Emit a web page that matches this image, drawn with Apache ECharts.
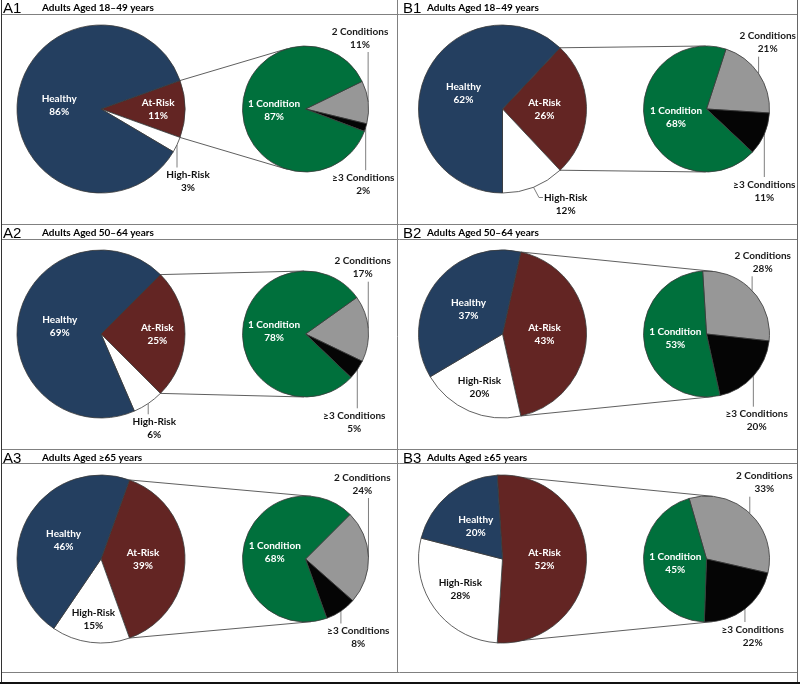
<!DOCTYPE html>
<html><head><meta charset="utf-8">
<script src="https://cdn.jsdelivr.net/npm/echarts@6/dist/echarts.min.js"></script>
<style>html,body{margin:0;padding:0;background:#fff}#c{width:800px;height:684px}</style>
</head><body><div id="c"></div>
<script>
// ---------- data ----------
const PANEL_IDS = ['A1','B1','A2','B2','A3','B3'];
const PANEL_TITLES = ['Adults Aged 18\u201349 years','Adults Aged 18\u201349 years','Adults Aged 50\u201364 years','Adults Aged 50\u201364 years','Adults Aged \u226565 years','Adults Aged \u226565 years'];
const RISK_CATEGORIES = ['At-Risk','High-Risk','Healthy'];
const AT_RISK   = [11,26,25,43,39,52];
const HIGH_RISK = [3,12,6,20,15,28];
const HEALTHY   = [86,62,69,37,46,20];
const COND_CATEGORIES = ['2 Conditions','\u22653 Conditions','1 Condition'];
const COND_2 = [11,21,17,28,24,33];
const COND_3 = [2,11,5,20,8,22];
const COND_1 = [87,68,78,53,68,45];

// ---------- layout / style ----------
const FONT = 'Lato, "Open Sans", sans-serif';
const COLORS = {'At-Risk':'#632523','High-Risk':'#ffffff','Healthy':'#243F60',
  '2 Conditions':'#979797','\u22653 Conditions':'#050505','1 Condition':'#00703C'};
const COLS = [{x:0, bigX:101, smallX:305.5},{x:400, bigX:102.5, smallX:306.5}];
const ROW_Y = [0,225,450];
const CY = 109, BIG_R = 84, SMALL_R = 63;
const SMALL_START = [26,72,35.5,93.5,45,106];
// big pie label placement: radial factor (inside) or outside label centre (panel coords)
const BIG_LABEL = [
  [0.68, {x:188, y:181.5, lead:'v'}, 0.5],
  [0.5, {x:165.7, y:204, lead:'side'}, 0.5],
  [0.67, {x:154.3, y:203.3, lead:'v'}, 0.5],
  [0.5, 0.69, 0.5],
  [0.5, 0.72, 0.5],
  [0.5, 0.62, 0.5]
];
// small pie outside label centres [2 Conditions, >=3 Conditions] (panel coords)
const SMALL_LABEL = [
  [[360,38],[363.3,184.2]],
  [[367.7,42.7],[364.3,191]],
  [[362.7,42.7],[354.3,197.3]],
  [[362.7,37.3],[356.7,195.7]],
  [[362.3,34],[358.3,187.5]],
  [[364.3,32.7],[352.7,186]]
];

function panelGeo(i){
  const c = COLS[i%2], oy = ROW_Y[Math.floor(i/2)];
  return {ox:c.x, oy:oy, bx:c.x+c.bigX, by:oy+CY, sx:c.x+c.smallX, sy:oy+CY};
}
function midAngle(start, vals, k){
  let s = 0; for (let j=0;j<k;j++) s += vals[j];
  const tot = vals.reduce((a,b)=>a+b,0);
  return start - 360*(s + vals[k]/2)/tot;
}
function pt(cx,cy,r,deg){ const a=deg*Math.PI/180; return [cx+r*Math.cos(a), cy-r*Math.sin(a)]; }

function bigLayout(i){
  const g = panelGeo(i), vals=[AT_RISK[i],HIGH_RISK[i],HEALTHY[i]], start=AT_RISK[i]*1.8;
  return function(p){
    const k = p.dataIndex, lay = BIG_LABEL[i][k], mid = midAngle(start, vals, k);
    if (typeof lay === 'number'){
      const q = pt(g.bx,g.by,lay*BIG_R,mid);
      return {x:q[0], y:q[1], align:'center', verticalAlign:'middle'};
    }
    const e = pt(g.bx,g.by,BIG_R,mid);
    const lx = g.ox+lay.x, ly = g.oy+lay.y, h=p.labelRect.height, w=p.labelRect.width;
    let pts;
    if (lay.lead==='v'){ const ty = ly-h/2-1; pts=[e,[e[0],ty],[e[0],ty]]; }
    else { const l = lx-w/2, ty = ly-h/4; pts=[e,[l-5,ty],[l-1,ty]]; }
    return {x:lx, y:ly, align:'center', verticalAlign:'middle', labelLinePoints:pts};
  };
}
function smallLayout(i){
  const g = panelGeo(i), vals=[COND_2[i],COND_3[i],COND_1[i]], start=SMALL_START[i];
  return function(p){
    const k = p.dataIndex, mid = midAngle(start, vals, k);
    if (k===2){ const q=pt(g.sx,g.sy,0.5*SMALL_R,mid); return {x:q[0],y:q[1],align:'center',verticalAlign:'middle'}; }
    const lab = SMALL_LABEL[i][k], e = pt(g.sx,g.sy,SMALL_R,mid);
    const lx = g.ox+lab[0], ly = g.oy+lab[1], h=p.labelRect.height;
    const ty = k===0 ? ly+h/2+1 : ly-h/2-1;
    return {x:lx, y:ly, align:'center', verticalAlign:'middle', labelLinePoints:[e,[e[0],ty],[e[0],ty]]};
  };
}

const baseLabel = {show:true, formatter:'{b}\n{c}%', fontSize:10, fontWeight:'bold', fontFamily:FONT, lineHeight:13, textBorderWidth:0};
const series = [];
const graphics = [];

function tangent(P, C, r, upper){
  const dx=P[0]-C[0], dy=C[1]-P[1], d=Math.hypot(dx,dy), phi=Math.atan2(dy,dx), a=Math.acos(r/d);
  const t = upper ? phi-a : phi+a;
  return [C[0]+r*Math.cos(t), C[1]-r*Math.sin(t)];
}

for (let i=0;i<6;i++){
  const g = panelGeo(i);
  const rv = [AT_RISK[i],HIGH_RISK[i],HEALTHY[i]];
  const bigData = RISK_CATEGORIES.map((name,k)=>{
    const out = typeof BIG_LABEL[i][k] === 'object';
    return {name, value:rv[k], itemStyle:{color:COLORS[name]},
      label:{position: out?'outside':'inside', color: (name==='High-Risk')?'#111':'#fff'},
      labelLine:{show:out}};
  });
  series.push({type:'pie', center:[g.bx,g.by], radius:BIG_R, startAngle:AT_RISK[i]*1.8, clockwise:true,
    avoidLabelOverlap:false, silent:true, animation:false, z:3,
    itemStyle:{borderColor:'#3a3a3a', borderWidth:0.8},
    label:baseLabel, labelLine:{lineStyle:{color:'#7f7f7f', width:1}, smooth:false},
    labelLayout: bigLayout(i), emphasis:{disabled:true}, data:bigData});

  const cv = [COND_2[i],COND_3[i],COND_1[i]];
  const smallData = COND_CATEGORIES.map((name,k)=>({name, value:cv[k], itemStyle:{color:COLORS[name]},
    label:{position: k===2?'inside':'outside', color: k===2?'#fff':'#1a1a1a'}, labelLine:{show:k!==2}}));
  series.push({type:'pie', center:[g.sx,g.sy], radius:SMALL_R, startAngle:SMALL_START[i], clockwise:true,
    avoidLabelOverlap:false, silent:true, animation:false, z:3,
    itemStyle:{borderColor:'#3a3a3a', borderWidth:0.8},
    label:baseLabel, labelLine:{lineStyle:{color:'#7f7f7f', width:1}, smooth:false},
    labelLayout: smallLayout(i), emphasis:{disabled:true}, data:smallData});

  // connectors from At-Risk edges to the second pie
  const a = AT_RISK[i]*1.8;
  const Pu = pt(g.bx,g.by,BIG_R,a), Pl = pt(g.bx,g.by,BIG_R,-a);
  const Tu = tangent(Pu,[g.sx,g.sy],SMALL_R,true), Tl = tangent(Pl,[g.sx,g.sy],SMALL_R,false);
  [[Pu,Tu],[Pl,Tl]].forEach(s=>graphics.push({type:'line', z:1, silent:true,
    shape:{x1:s[0][0],y1:s[0][1],x2:s[1][0],y2:s[1][1]}, style:{stroke:'#4d4d4d', lineWidth:0.9}}));

  // panel headers
  graphics.push({type:'text', z:5, silent:true, x:g.ox+3, y:g.oy+8.5,
    style:{text:PANEL_IDS[i], font:'15px "Liberation Sans", Arial, sans-serif', fill:'#000', verticalAlign:'middle', textVerticalAlign:'middle'}});
  graphics.push({type:'text', z:5, silent:true, x:g.ox+(i%2? 27:42), y:g.oy+7.5,
    style:{text:PANEL_TITLES[i], font:'bold 10px '+FONT, fill:'#000', verticalAlign:'middle', textVerticalAlign:'middle'}});
}

// frame lines
const GRID = '#808080';
function hl(y,x1,x2,c,w){ graphics.push({type:'line', z:4, silent:true, shape:{x1:x1,y1:y,x2:x2,y2:y}, style:{stroke:c||GRID, lineWidth:w||1}}); }
function vl(x,y1,y2,c,w){ graphics.push({type:'line', z:4, silent:true, shape:{x1:x,y1:y1,x2:x,y2:y2}, style:{stroke:c||GRID, lineWidth:w||1}}); }
[14.5,224.5,239.5,449.5,463.5,672.5].forEach(y=>hl(y,1,798));
vl(397.5,0,672.5);
vl(1.5,0,684,'#333');
vl(797.5,0,684,'#666');
hl(683,0,800,'#111',2);

const chart = echarts.init(document.getElementById('c'), null, {renderer:'canvas'});
chart.setOption({animation:false, backgroundColor:'#fff', series:series, graphic:{elements:graphics}});
</script>
</body></html>
